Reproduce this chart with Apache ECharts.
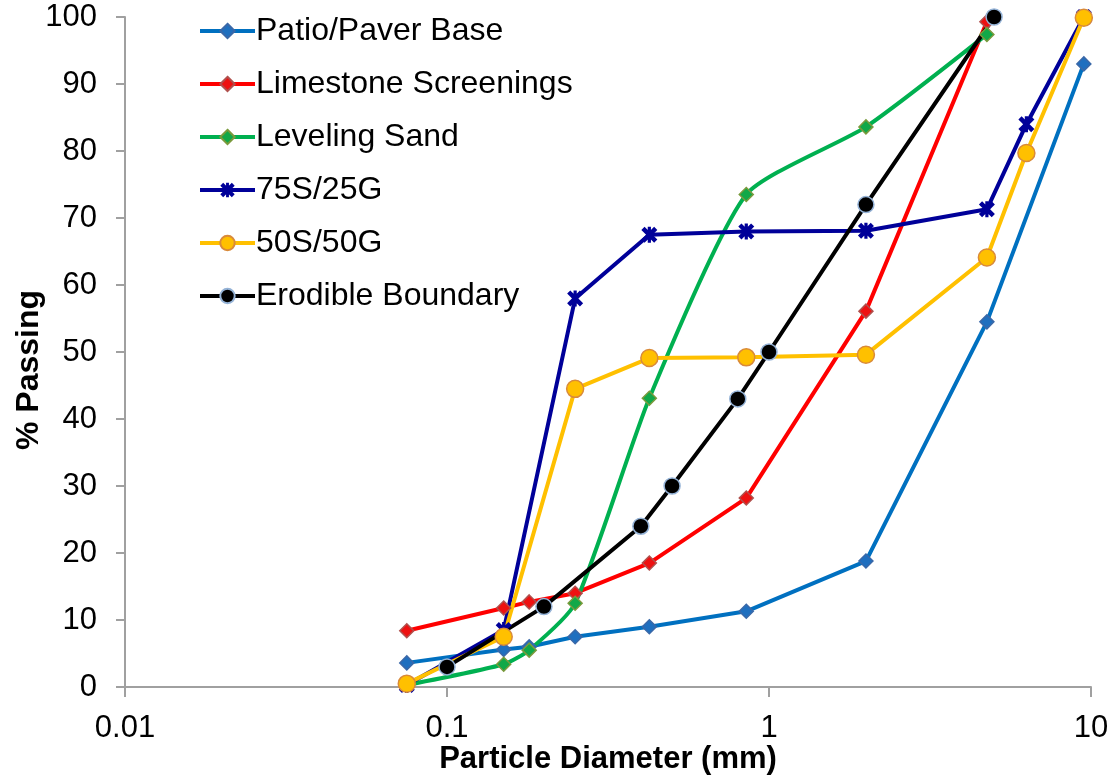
<!DOCTYPE html>
<html>
<head>
<meta charset="utf-8">
<title>Particle Size Distribution</title>
<script src="https://cdn.jsdelivr.net/npm/echarts@6/dist/echarts.min.js"></script>
<style>
  html, body { margin: 0; padding: 0; background: #ffffff; }
  #chart { width: 1114px; height: 780px; }
</style>
</head>
<body>
<div id="chart"></div>
<script>
// Sieve sizes (mm) and percent passing for each material
const patioSizes = [0.075, 0.15, 0.18, 0.25, 0.425, 0.85, 2.0, 4.75, 9.5];
const patioPassing = [3.6, 5.6, 6.0, 7.5, 9.0, 11.3, 18.8, 54.5, 93.0];

const limestoneSizes = [0.075, 0.15, 0.18, 0.25, 0.425, 0.85, 2.0, 4.75];
const limestonePassing = [8.4, 11.8, 12.7, 14.0, 18.5, 28.2, 56.1, 99.3];

const levelingSizes = [0.075, 0.15, 0.18, 0.25, 0.425, 0.85, 2.0, 4.75];
const levelingPassing = [0.3, 3.4, 5.5, 12.5, 43.1, 73.5, 83.6, 97.4];

const mix75Sizes = [0.075, 0.15, 0.25, 0.425, 0.85, 2.0, 4.75, 6.3, 9.5];
const mix75Passing = [0.3, 8.5, 58.0, 67.5, 68.0, 68.1, 71.3, 84.0, 100];

const mix50Sizes = [0.075, 0.15, 0.25, 0.425, 0.85, 2.0, 4.75, 6.3, 9.5];
const mix50Passing = [0.5, 7.5, 44.5, 49.1, 49.2, 49.6, 64.1, 79.7, 99.9];

const erodibleSizes = [0.1, 0.2, 0.4, 0.5, 0.8, 1, 2, 5];
const erodiblePassing = [3, 12, 24, 30, 43, 50, 72, 100];

const seriesNames = ['Patio/Paver Base', 'Limestone Screenings', 'Leveling Sand',
                     '75S/25G', '50S/50G', 'Erodible Boundary'];
const xTicks = [0.01, 0.1, 1, 10];

const pairs = (xs, ys) => xs.map((x, i) => [x, ys[i]]);

// Asterisk-style marker (X with a vertical bar)
const starPath = 'path://M0,2L2,0L10,8L8,10Z M8,0L10,2L2,10L0,8Z M4,0L6,0L6,10L4,10Z';

const FONT = "'Liberation Sans', Arial, sans-serif";

function lineSeries(name, data, color, symbol, size, fill, border, extra) {
  return Object.assign({
    name: name,
    type: 'line',
    data: data,
    symbol: symbol,
    symbolSize: size,
    showAllSymbol: true,
    lineStyle: { color: color, width: 4 },
    itemStyle: { color: fill, borderColor: border || fill, borderWidth: border ? 1.5 : 0 },
    emphasis: { disabled: true },
    z: 2
  }, extra || {});
}

const chart = echarts.init(document.getElementById('chart'), null, { renderer: 'canvas' });

chart.setOption({
  animation: false,
  backgroundColor: '#ffffff',
  textStyle: { fontFamily: FONT, color: '#000000' },
  grid: { left: 125, right: 23, top: 17, bottom: 93, containLabel: false, outerBoundsMode: 'none' },
  legend: {
    orient: 'vertical',
    left: 198,
    top: 14,
    padding: 0,
    itemWidth: 55,
    itemHeight: 18,
    itemGap: 19,
    lineStyle: { width: 4 },
    textStyle: { fontFamily: FONT, fontSize: 32, color: '#000000', lineHeight: 34, padding: [0, 0, 0, -4] },
    data: seriesNames
  },
  xAxis: {
    type: 'log',
    logBase: 10,
    min: 0.01,
    max: 10,
    name: 'Particle Diameter (mm)',
    nameLocation: 'middle',
    nameGap: 57,
    nameMoveOverlap: false,
    nameTextStyle: { fontFamily: FONT, fontSize: 31, fontWeight: 'bold', color: '#000000', verticalAlign: 'top' },
    axisLine: { show: true, onZero: false, lineStyle: { color: '#a0a0a0', width: 2 } },
    axisTick: { show: true, inside: false, length: 10, lineStyle: { color: '#a0a0a0', width: 2 } },
    minorTick: { show: false },
    splitLine: { show: false },
    axisLabel: {
      fontFamily: FONT, fontSize: 31, color: '#000000', margin: 26,
      formatter: v => {
        const t = xTicks.find(k => Math.abs(k - v) / k < 1e-6);
        return t === undefined ? '' : String(t);
      }
    }
  },
  yAxis: {
    type: 'value',
    min: 0,
    max: 100,
    interval: 10,
    name: '% Passing',
    nameLocation: 'middle',
    nameGap: 80,
    nameMoveOverlap: false,
    nameTextStyle: { fontFamily: FONT, fontSize: 32, fontWeight: 'bold', color: '#000000', padding: [0, 36, 0, 0] },
    axisLine: { show: true, lineStyle: { color: '#a0a0a0', width: 2 } },
    axisTick: { show: true, inside: false, length: 9, lineStyle: { color: '#a0a0a0', width: 2 } },
    splitLine: { show: false },
    axisLabel: { fontFamily: FONT, fontSize: 31, color: '#000000', margin: 28 }
  },
  series: [
    lineSeries(seriesNames[0], pairs(patioSizes, patioPassing), '#0070c0', 'diamond', 14, '#1f6fbf', '#3a68a8'),
    lineSeries(seriesNames[1], pairs(limestoneSizes, limestonePassing), '#ff0000', 'diamond', 14, '#ee1111', '#b0504d'),
    lineSeries(seriesNames[2], pairs(levelingSizes, levelingPassing), '#00b050', 'diamond', 14, '#11a848', '#7a9a3c', { smooth: 0.2 }),
    lineSeries(seriesNames[3], pairs(mix75Sizes, mix75Passing), '#000099', starPath, 16, '#000099', null),
    lineSeries(seriesNames[4], pairs(mix50Sizes, mix50Passing), '#ffc000', 'circle', 17, '#ffc000', '#d98a3a'),
    lineSeries(seriesNames[5], pairs(erodibleSizes, erodiblePassing), '#000000', 'circle', 16, '#000000', '#95b3d7')
  ]
});
</script>
</body>
</html>
